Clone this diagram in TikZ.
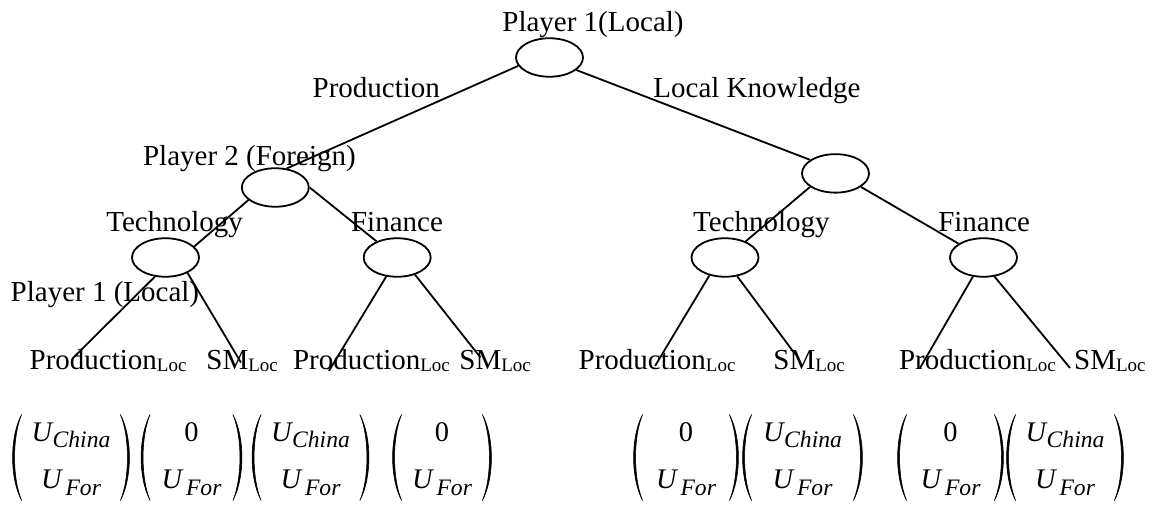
\documentclass[tikz,border=0pt]{standalone}
\usepackage{fontspec}
\setmainfont{Liberation Serif}
\usetikzlibrary{shapes.geometric}
\newcommand\lbl{\fontsize{14.5}{17}\selectfont}
\newcommand\subloc[1]{#1\raisebox{-1pt}{\fontsize{9.5}{10}\selectfont Loc}}
\newcommand\bigU{{\fontsize{14.2}{15}\selectfont\itshape U}}
\newcommand\UChina{\bigU\kern0.3pt\raisebox{-3pt}{\fontsize{11.8}{13}\selectfont\itshape China}}
\newcommand\UFor{\bigU\kern2pt\raisebox{-3.5pt}{\fontsize{11.8}{13}\selectfont\itshape For}}
\newcommand\Zero{{\fontsize{14.2}{15}\selectfont 0}}
\newcommand\paymat[5]{%
  \node[frame, minimum width=#3pt] (#1) at (#2,457.5) {};
  \node[rowtext] (#1t) at (#2,442) {#4};
  \node[rowtext] (#1b) at (#2,489) {#5};
  \filldraw[paren] ([xshift=4.5pt]#1.north west)
     .. controls ([xshift=-1.5pt,yshift=-11pt]#1.north west) and ([xshift=-1.5pt,yshift=11pt]#1.south west) .. ([xshift=4.5pt]#1.south west)
     .. controls ([xshift=-0.2pt,yshift=11pt]#1.south west) and ([xshift=-0.2pt,yshift=-11pt]#1.north west) .. cycle;
  \filldraw[paren] ([xshift=-4.5pt]#1.north east)
     .. controls ([xshift=1.5pt,yshift=-11pt]#1.north east) and ([xshift=1.5pt,yshift=11pt]#1.south east) .. ([xshift=-4.5pt]#1.south east)
     .. controls ([xshift=0.2pt,yshift=11pt]#1.south east) and ([xshift=0.2pt,yshift=-11pt]#1.north east) .. cycle;
}
\begin{document}
\begin{tikzpicture}[x=0.5pt,y=-0.5pt,
  decision/.style={draw, ellipse, line width=0.9pt, minimum width=33.5pt, minimum height=19.25pt, inner sep=0pt},
  edge/.style={line width=0.9pt},
  label/.style={anchor=base west, inner sep=0pt, font=\lbl},
  frame/.style={inner sep=0pt, minimum height=42.5pt},
  rowtext/.style={anchor=base, inner sep=0pt},
  paren/.style={line width=0.3pt, line join=round}]
\useasboundingbox (0,0) rectangle (1152,507);

% decision nodes
\node[decision] (root) at (549.5,57.5) {};
\node[decision] (p2) at (275.3,187.5) {};
\node[decision] (r) at (835.5,173.4) {};
\node[decision] (ll) at (165.5,257.5) {};
\node[decision] (lr) at (397.2,257.5) {};
\node[decision] (rl) at (725,257.5) {};
\node[decision] (rr) at (983.5,257.5) {};

% labels
\node[label] (tRoot) at (502,32) {Player 1(Local)};
\node[label] (tProd) at (312.3,97.3) {Production};
\node[label] (tLK) at (653,97.3) {Local Knowledge};
\node[label] (tP2) at (142.7,166) {Player 2 (Foreign)};
\node[label] (tTechL) at (106,231.7) {Technology};
\node[label] (tFinL) at (350.7,231.7) {Finance};
\node[label] (tTechR) at (692.8,231.7) {Technology};
\node[label] (tFinR) at (937.9,231.7) {Finance};
\node[label] (tP1) at (10.3,301.5) {Player 1 (Local)};

% leaves
\node[label] (l1) at (29.3,369.5) {\subloc{Production}};
\node[label] (l2) at (206,369.5) {\subloc{SM}};
\node[label] (l3) at (292.7,369.5) {\subloc{Production}};
\node[label] (l4) at (459,369.5) {\subloc{SM}};
\node[label] (l5) at (578.3,369.5) {\subloc{Production}};
\node[label] (l6) at (773,369.5) {\subloc{SM}};
\node[label] (l7) at (898.6,369.5) {\subloc{Production}};
\node[label] (l8) at (1073.8,369.5) {\subloc{SM}};

% free ends of the leaf branches
\coordinate (e1) at (74,357);
\coordinate (e2) at (241,362.6);
\coordinate (e3) at (328.9,371);
\coordinate (e4) at (480.4,357.4);
\coordinate (e5) at (655,366);
\coordinate (e6) at (795,354);
\coordinate (e7) at (920,368);
\coordinate (e8) at (1070,368);

% branches
\draw[edge] (root.195) -- (p2.59);
\draw[edge] (root.335) -- (r.152);
\draw[edge] (p2.205) -- (ll.21);
\draw[edge] (p2.0) -- (lr.142);
\draw[edge] (r.208) -- (rl.38);
\draw[edge] (r.332) -- (rr.151);
\draw[edge] (ll.241) -- (e1);
\draw[edge] (ll.325) -- (e2);
\draw[edge] (lr.240) -- (e3);
\draw[edge] (lr.316) -- (e4);
\draw[edge] (rl.229) -- (e5);
\draw[edge] (rl.303) -- (e6);
\draw[edge] (rr.241) -- (e7);
\draw[edge] (rr.300) -- (e8);

% payoff vectors
\paymat{m1}{71}{58}{\UChina}{\UFor}
\paymat{m2}{191.5}{50}{\Zero}{\UFor}
\paymat{m3}{310.5}{58}{\UChina}{\UFor}
\paymat{m4}{442}{49}{\Zero}{\UFor}
\paymat{m5}{686}{52}{\Zero}{\UFor}
\paymat{m6}{802.5}{59.5}{\UChina}{\UFor}
\paymat{m7}{950.5}{52.5}{\Zero}{\UFor}
\paymat{m8}{1065}{58}{\UChina}{\UFor}
\end{tikzpicture}
\end{document}
